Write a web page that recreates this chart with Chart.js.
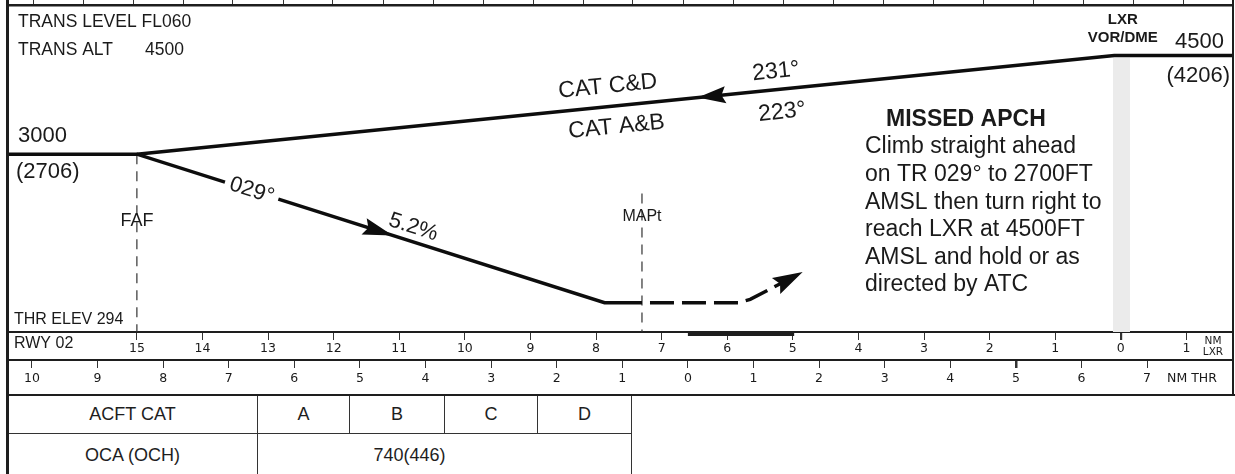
<!DOCTYPE html>
<html>
<head>
<meta charset="utf-8">
<script src="https://cdn.jsdelivr.net/npm/chart.js@4.4.1/dist/chart.umd.min.js"></script>
<style>
  html, body { margin:0; padding:0; background:#fff; width:1235px; height:474px; overflow:hidden; }
  #wrap { position:absolute; left:0; top:0; width:1235px; height:395px; }
  #lborder { position:absolute; left:6px; top:0; width:2.5px; height:474px; background:#1e1e1e; }
  #tline { position:absolute; left:7px; top:394px; width:1228px; height:2px; background:#1e1e1e; }
  #oca { position:absolute; left:7px; top:395px; border-collapse:collapse;
         font-family:"Liberation Sans", Arial, sans-serif; font-size:18px; color:#1e1e1e; }
  #oca td { border:1.5px solid #333; text-align:center; padding:0; }
  #oca tr.r1 td { height:37px; }
  #oca tr.r2 td { height:42px; }
</style>
</head>
<body>
<div id="wrap"><canvas id="c" width="1235" height="395"></canvas></div>
<table id="oca"></table>
<div id="tline"></div>
<div id="lborder"></div>
<script>
// ---------------- data (distances in NM from THR, negative = before THR; altitudes in ft) ----------------
const thrElev   = 294;
const altTop    = 5270;
const distMin   = -10.38;
const distMax   = 8.31;
const fafDist   = -8.4;
const maptDist  = -0.7;
const lxrDist   = 6.6;

const initialDist = [8.31, 6.5, -8.4];
const initialAlt  = [4500, 4500, 3000];
const finalDist   = [-10.38, -8.4, -1.27, -0.7];
const finalAlt    = [3000, 3000, 740, 740];
const missedDist  = [-0.7, 0.77, 0.95, 1.75];
const missedAlt   = [740, 740, 790, 1206];
const fafLineAlt  = [3000, 294];
const maptLineAlt = [2400, 294];
const runwayDist  = [0, 1.62];

const lxrTicks  = [15, 14, 13, 12, 11, 10, 9, 8, 7, 6, 5, 4, 3, 2, 1, 0, -1];
const thrTicks  = [-10, -9, -8, -7, -6, -5, -4, -3, -2, -1, 0, 1, 2, 3, 4, 5, 6, 7];
const planTicks = [0,1,2,3,4,5,6,7,8,9,10,11,12,13,14,15,16,17,18,19,20,21,22,23];

const acftCats = ['A', 'B', 'C', 'D'];
const ocaValue = '740(446)';
const missedText = ['Climb straight ahead', 'on TR 029\u00B0 to 2700FT', 'AMSL then turn right to',
                    'reach LXR at 4500FT', 'AMSL and hold or as', 'directed by ATC'];

// ---------------- helpers ----------------
const SANS = '"Liberation Sans", Arial, Helvetica, sans-serif';
const DV   = '"DejaVu Sans", Verdana, sans-serif';
const INK  = '#1a1a1a';
const pts = (xs, ys) => xs.map((x, i) => ({ x: x, y: ys[i] }));

function pathPoint(xs, ys, t, X, Y) {
  for (let i = 0; i < xs.length - 1; i++) {
    const a = xs[i], b = xs[i + 1];
    if (a !== b && (t - a) * (t - b) <= 0) {
      const f = (t - a) / (b - a);
      const alt = ys[i] + f * (ys[i + 1] - ys[i]);
      const x1 = X(a), y1 = Y(ys[i]), x2 = X(b), y2 = Y(ys[i + 1]);
      let ang = Math.atan2(y2 - y1, x2 - x1);
      if (x2 < x1) ang += Math.PI;
      return { x: X(t), y: Y(alt), ang: ang };
    }
  }
  return null;
}
function arrow(ctx, x, y, ang, len, hw) {
  ctx.save();
  ctx.translate(x, y); ctx.rotate(ang);
  ctx.beginPath();
  ctx.moveTo(0, 0); ctx.lineTo(-len, -hw); ctx.lineTo(-len * 0.85, 0); ctx.lineTo(-len, hw);
  ctx.closePath(); ctx.fillStyle = '#0d0d0d'; ctx.fill();
  ctx.restore();
}
function text(ctx, s, x, y, font, align) {
  ctx.font = font; ctx.textAlign = align || 'left'; ctx.textBaseline = 'middle';
  ctx.fillText(s, x, y);
}
function rotText(ctx, s, x, y, ang, font, gap) {
  ctx.save();
  ctx.translate(x, y); ctx.rotate(ang);
  if (gap) { ctx.fillStyle = '#fff'; ctx.fillRect(-gap / 2, -7, gap, 14); }
  ctx.fillStyle = INK;
  text(ctx, s, 0, 0, font, 'center');
  ctx.restore();
}

const annotPlugin = {
  id: 'annot',
  beforeDatasetsDraw(chart) {
    const { ctx, chartArea: ca, scales } = chart;
    const X = v => scales.x.getPixelForValue(v), Y = v => scales.y.getPixelForValue(v);
    ctx.save();
    ctx.fillStyle = '#ebebeb';
    const l = X(lxrDist - 0.12), r = X(lxrDist + 0.14);
    ctx.fillRect(l, Y(4500) + 2, r - l, ca.bottom - Y(4500) - 2);
    ctx.restore();
  },
  afterDatasetsDraw(chart) {
    const { ctx, scales } = chart;
    const X = v => scales.x.getPixelForValue(v), Y = v => scales.y.getPixelForValue(v);
    ctx.save();
    ctx.fillStyle = INK;
    // arrows
    const pa = pathPoint(initialDist, initialAlt, 0.15, X, Y);
    arrow(ctx, pa.x, pa.y, pa.ang + Math.PI, 28, 8.5);
    const pd = pathPoint(finalDist, finalAlt, -4.5, X, Y);
    arrow(ctx, pd.x, pd.y, pd.ang, 30, 8.5);
    const n = missedDist.length;
    const mx1 = X(missedDist[n - 2]), my1 = Y(missedAlt[n - 2]);
    const mx2 = X(missedDist[n - 1]), my2 = Y(missedAlt[n - 1]);
    arrow(ctx, mx2, my2, Math.atan2(my2 - my1, mx2 - mx1), 30, 9);
    // labels along the tracks
    const f1 = '23px ' + SANS;
    const q1 = pathPoint(finalDist, finalAlt, -6.65, X, Y);
    rotText(ctx, '029\u00B0', q1.x, q1.y, q1.ang, '22px ' + SANS, 56);
    const q2 = pathPoint(finalDist, finalAlt, -4.25, X, Y);
    rotText(ctx, '5.2%', q2.x + 14 * Math.sin(q2.ang), q2.y - 14 * Math.cos(q2.ang), q2.ang, '22px ' + SANS);
    const c1 = pathPoint(initialDist, initialAlt, -1.19, X, Y);
    rotText(ctx, 'CAT C&D', c1.x + 20 * Math.sin(c1.ang), c1.y - 20 * Math.cos(c1.ang), c1.ang, f1);
    const c2 = pathPoint(initialDist, initialAlt, -1.12, X, Y);
    rotText(ctx, 'CAT A&B', c2.x - 21 * Math.sin(c2.ang), c2.y + 21 * Math.cos(c2.ang), c2.ang, f1);
    const c3 = pathPoint(initialDist, initialAlt, 1.37, X, Y);
    rotText(ctx, '231\u00B0', c3.x + 18 * Math.sin(c3.ang), c3.y - 18 * Math.cos(c3.ang), c3.ang, f1);
    const c4 = pathPoint(initialDist, initialAlt, 1.40, X, Y);
    rotText(ctx, '223\u00B0', c4.x - 23 * Math.sin(c4.ang), c4.y + 23 * Math.cos(c4.ang), c4.ang, f1);
    ctx.restore();
  },
  afterDraw(chart) {
    const { ctx, chartArea: ca, scales } = chart;
    const X = v => scales.x.getPixelForValue(v), Y = v => scales.y.getPixelForValue(v);
    ctx.save();
    // frame (right edge)
    ctx.fillStyle = '#1e1e1e';
    ctx.fillRect(ca.right - 1, 0, 2, chart.height);
    // runway bar on the DME scale
    ctx.fillRect(X(runwayDist[0]), ca.bottom, X(runwayDist[1]) - X(runwayDist[0]), 4);
    // static texts
    ctx.fillStyle = INK;
    text(ctx, 'TRANS LEVEL FL060', ca.left + 11, 22, '17.5px ' + SANS);
    text(ctx, 'TRANS ALT', ca.left + 11, 50, '17.5px ' + SANS);
    text(ctx, '4500', ca.left + 138, 50, '17.5px ' + SANS);
    text(ctx, '3000', ca.left + 11, Y(3000) - 18, '22px ' + SANS);
    text(ctx, '(2706)', ca.left + 9, Y(3000) + 18, '22px ' + SANS);
    text(ctx, '4500', ca.right - 9, Y(4500) - 14, '22px ' + SANS, 'right');
    text(ctx, '(4206)', ca.right - 3, Y(4500) + 20, '22px ' + SANS, 'right');
    text(ctx, 'LXR', X(lxrDist) + 2, 20, 'bold 15px ' + SANS, 'center');
    text(ctx, 'VOR/DME', X(lxrDist) + 2, 38, 'bold 15px ' + SANS, 'center');
    text(ctx, 'THR ELEV 294', ca.left + 7, ca.bottom - 12, '16px ' + SANS);
    text(ctx, 'FAF', X(fafDist), 221, '18px ' + SANS, 'center');
    text(ctx, 'MAPt', X(maptDist), 217, '16px ' + SANS, 'center');
    text(ctx, 'MISSED APCH', 886, 120, 'bold 23px ' + SANS);
    missedText.forEach((s, i) => text(ctx, s, 865, 147 + i * 27.6, '23px ' + SANS));
    // scale row captions
    const lxr = scales.lxr, thr = scales.thr;
    text(ctx, 'RWY 02', ca.left + 7, lxr.top + 12, '16px ' + SANS);
    text(ctx, 'NM', ca.right - 20, lxr.top + 9, '10.5px ' + DV, 'center');
    text(ctx, 'LXR', ca.right - 20, lxr.top + 20, '10.5px ' + DV, 'center');
    text(ctx, 'NM THR', thr.getPixelForValue(7) + 20, thr.top + 19, '12.5px ' + DV);
    ctx.restore();
  }
};

const lineDs = (label, xs, ys, extra) => Object.assign({
  label: label, data: pts(xs, ys), showLine: true, fill: false,
  borderColor: '#0d0d0d', borderWidth: 3.5, pointRadius: 0, pointHoverRadius: 0,
  borderCapStyle: 'butt', borderJoinStyle: 'miter', tension: 0
}, extra || {});

const scaleTickFont = { family: '"DejaVu Sans", Verdana, sans-serif', size: 12.5 };

new Chart(document.getElementById('c'), {
  type: 'scatter',
  data: {
    datasets: [
      lineDs('Initial approach', initialDist, initialAlt),
      lineDs('Final approach', finalDist, finalAlt),
      lineDs('Missed approach', missedDist, missedAlt, { borderDash: [24, 8], borderDashOffset: 24 }),
      lineDs('FAF', [fafDist, fafDist], fafLineAlt, { borderWidth: 1.2, borderColor: '#333', borderDash: [10, 7] }),
      lineDs('MAPt', [maptDist, maptDist], maptLineAlt, { borderWidth: 1.2, borderColor: '#333', borderDash: [10, 7] })
    ]
  },
  options: {
    responsive: false, animation: false, devicePixelRatio: 1,
    layout: { padding: { left: 7, right: 2, top: 0, bottom: 0 } },
    plugins: { legend: { display: false }, tooltip: { enabled: false } },
    scales: {
      x: { type: 'linear', min: distMin, max: distMax, display: false },
      y: { type: 'linear', min: thrElev, max: altTop, display: false },
      plan: {
        type: 'linear', axis: 'x', position: 'top', min: -0.52, max: 24.0,
        afterBuildTicks: s => { s.ticks = planTicks.map(v => ({ value: v })); },
        ticks: { display: false },
        grid: { drawOnChartArea: false, tickLength: 5, color: '#333', lineWidth: 1 },
        border: { display: true, color: '#1e1e1e', width: 2.5 },
        afterFit: s => { s.height = 5; }
      },
      lxr: {
        type: 'linear', axis: 'x', position: 'bottom', weight: 1, reverse: true,
        min: lxrDist - distMax, max: lxrDist - distMin,
        afterBuildTicks: s => { s.ticks = lxrTicks.map(v => ({ value: v })); },
        ticks: { autoSkip: false, maxRotation: 0, minRotation: 0, padding: 1.5, color: INK,
                 font: scaleTickFont, callback: v => String(Math.abs(v)) },
        grid: { drawOnChartArea: false, tickLength: 8, color: '#333',
                lineWidth: c => (c.tick && c.tick.value === 0 ? 2.2 : 1) },
        border: { display: true, color: '#1e1e1e', width: 2 },
        afterFit: s => { s.height = 28; }
      },
      thr: {
        type: 'linear', axis: 'x', position: 'bottom', weight: 2,
        min: distMin, max: distMax,
        afterBuildTicks: s => { s.ticks = thrTicks.map(v => ({ value: v })); },
        ticks: { autoSkip: false, maxRotation: 0, minRotation: 0, padding: 3, color: INK,
                 font: scaleTickFont, callback: v => String(Math.abs(v)) },
        grid: { drawOnChartArea: false, tickLength: 8, color: '#333',
                lineWidth: c => (c.tick && c.tick.value === 5 ? 2.5 : 1) },
        border: { display: true, color: '#1e1e1e', width: 2 },
        afterFit: s => { s.height = 35; }
      }
    }
  },
  plugins: [annotPlugin]
});

// ---------------- OCA table ----------------
const widths = [249, 91, 94, 92, 93];
let html = '<tr class="r1"><td style="width:' + widths[0] + 'px">ACFT CAT</td>' +
  acftCats.map((c, i) => '<td style="width:' + widths[i + 1] + 'px">' + c + '</td>').join('') + '</tr>';
html += '<tr class="r2"><td>OCA (OCH)</td><td colspan="' + acftCats.length +
  '" style="padding-right:70px">' + ocaValue + '</td></tr>';
document.getElementById('oca').innerHTML = html;
</script>
</body>
</html>
